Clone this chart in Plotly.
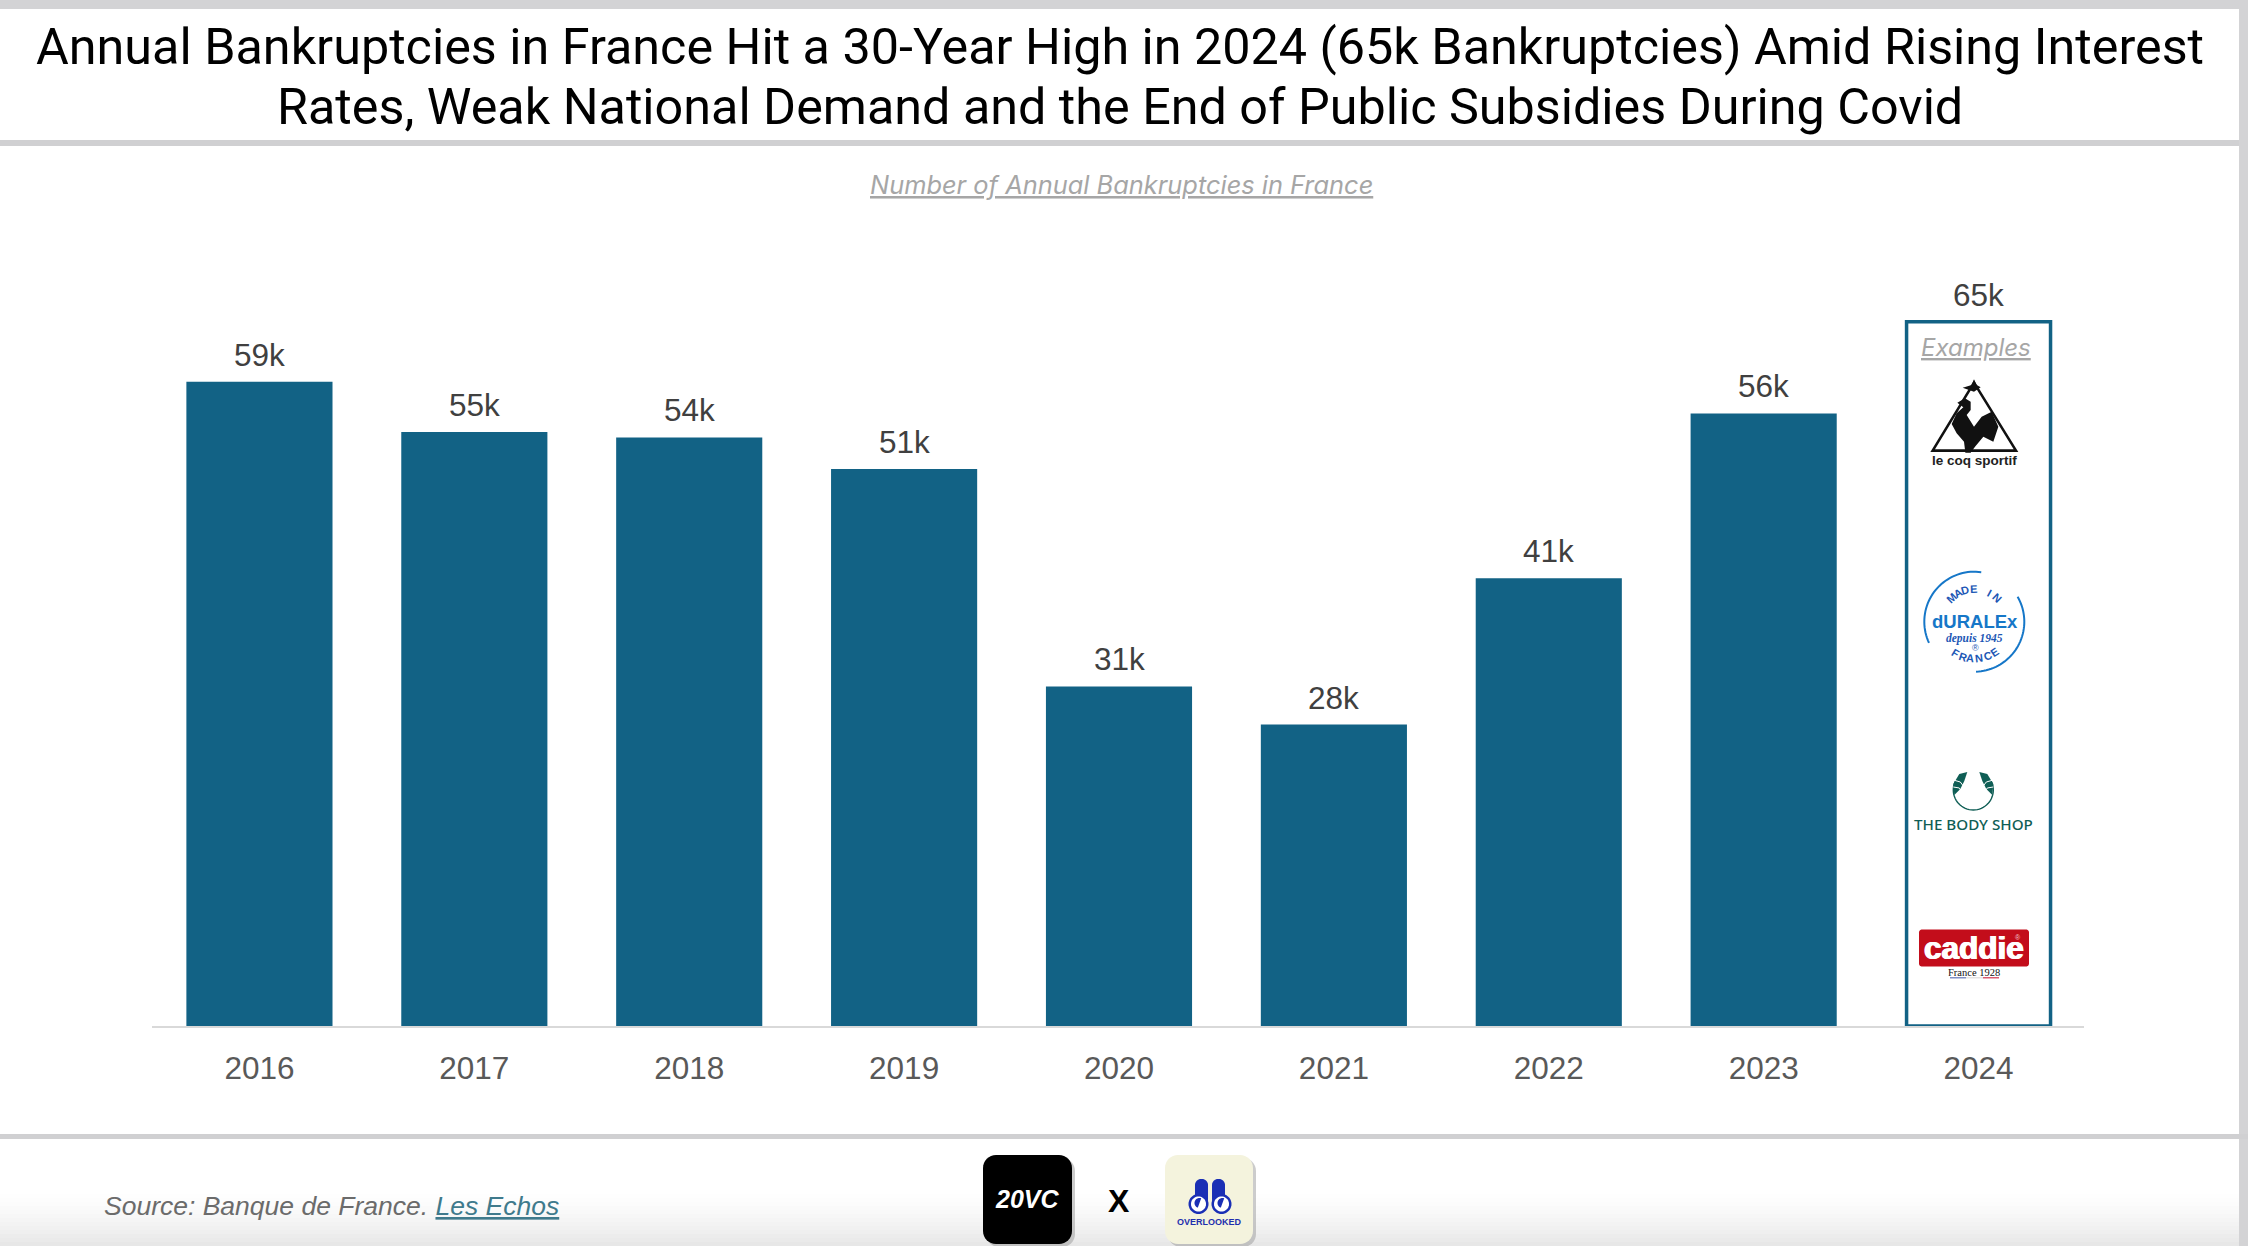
import math
import plotly.graph_objects as go

W, H = 2248, 1246

years = ["2016", "2017", "2018", "2019", "2020", "2021", "2022", "2023", "2024"]
values = [59.0, 54.4, 53.9, 51.0, 31.1, 27.6, 41.0, 56.1, 64.5]
labels = ["59k", "55k", "54k", "51k", "31k", "28k", "41k", "56k", "65k"]

TITLE_LINES = ["Annual Bankruptcies in France Hit a 30-Year High in 2024 (65k Bankruptcies) Amid Rising Interest",
               "Rates, Weak National Demand and the End of Public Subsidies During Covid"]
SUBTITLE = "Number of Annual Bankruptcies in France"
TEAL = "#126285"
GRAY_LINE = "#d0d0d2"


def px(x):
    return x / W


def py(y):
    return 1 - y / H


shapes = []
annotations = []


def rect(x0, y0, x1, y1, fill, layer="below"):
    shapes.append(dict(type="rect", xref="paper", yref="paper", x0=px(x0), x1=px(x1), y0=py(y0), y1=py(y1),
                       fillcolor=fill, line=dict(width=0), layer=layer))


def path(points, fill=None, line=None, width=0, close=True, layer="above", opacity=None):
    d = "M " + " L ".join(f"{px(a):.5f},{py(b):.5f}" for a, b in points) + (" Z" if close else "")
    s = dict(type="path", xref="paper", yref="paper", path=d, layer=layer,
             line=dict(width=width, color=line or "rgba(0,0,0,0)"))
    if fill:
        s["fillcolor"] = fill
    if opacity is not None:
        s["opacity"] = opacity
    shapes.append(s)


def arc(cx, cy, r, a0, a1, n=40):
    """Angles in degrees, clockwise from the top."""
    pts = []
    for i in range(n + 1):
        t = math.radians(a0 + (a1 - a0) * i / n)
        pts.append((cx + r * math.sin(t), cy - r * math.cos(t)))
    return pts


def rrect(x0, y0, x1, y1, r):
    return (arc(x0 + r, y0 + r, r, 270, 360, 8) + arc(x1 - r, y0 + r, r, 0, 90, 8) +
            arc(x1 - r, y1 - r, r, 90, 180, 8) + arc(x0 + r, y1 - r, r, 180, 270, 8))


def text(x, y, s, size, color, family="Liberation Sans", angle=0, weight="normal", style="normal", line=None,
         xanchor="center", shadow=None):
    f = dict(size=size, color=color, family=family, weight=weight, style=style)
    if line:
        f["lineposition"] = line
    if shadow:
        f["shadow"] = shadow
    annotations.append(dict(x=px(x), y=py(y), xref="paper", yref="paper", text=s, showarrow=False, font=f,
                            xanchor=xanchor, yanchor="middle", textangle=angle, align="center"))


# Page furniture
rect(0, 0, W, 9, "#d3d3d5")
rect(W - 9, 0, W, H, "#d3d3d5")
rect(0, 140, W - 9, 146, GRAY_LINE)
rect(0, 1134, W, 1139, GRAY_LINE)
steps = 14
for i in range(steps):
    v = 255 - round(24 * ((i + 1) / steps) ** 1.6)
    rect(0, 1190 + i * 4, W - 9, 1190 + (i + 1) * 4 + 0.5, f"rgb({v},{v},{v})")
rect(152, 1026, 2084, 1028, "#d9d9d9")

# Title and captions
text(1120, 46, TITLE_LINES[0], 50.3, "#000000", family="Roboto")
text(1120, 106, TITLE_LINES[1], 50.3, "#000000", family="Roboto")
text(1121, 184, SUBTITLE, 25.4, "#a6a6a6", family="Inter", style="italic", line="under")
text(102, 1206, 'Source: Banque de France. <span style="color:#3f7a8c"><u>Les Echos</u></span>', 26.5, "#6b6b6b",
     style="italic", xanchor="left")

# "Examples" box content
text(1975.5, 347, "Examples", 24, "#a6a6a6", family="Inter", style="italic", line="under")


def zc(x, y):
    return 1850 + x / 3, 270 + y / 3


# Le coq sportif
path([zc(372, 338), zc(248, 542), zc(498, 542)], line="#111111", width=2.6)
path([zc(*p) for p in [(338, 353), (365, 345), (372, 328), (380, 345), (392, 352), (372, 365)]], fill="#111111")
path([zc(*p) for p in [(322, 398), (345, 385), (362, 395), (362, 420), (350, 435), (372, 470), (395, 440), (425, 425),
                       (445, 470), (430, 515), (400, 500), (375, 530), (362, 548), (346, 548), (342, 515), (320, 490),
                       (305, 462), (320, 430), (340, 412)]], fill="#111111")
text(1974, 461, "le coq sportif", 13.5, "#222222", weight="bold")

# Duralex
DUR = "#1677c8"
dx, dy = 1974.3, 621.7
path(arc(dx, dy, 50, 245, 368), line=DUR, width=2, close=False)
path(arc(dx, dy, 50, 60, 178), line=DUR, width=2, close=False)
for ch, a in zip("MADE IN", [-44, -30, -16, -2, 12, 28, 44]):
    if ch != " ":
        x_, y_ = arc(dx, dy, 33, a, a, 1)[0]
        text(x_, y_, ch, 11, "#1c57b5", angle=a, weight="bold")
for ch, a in zip("FRANCE", [31, 18, 6, -7, -21, -34]):
    x_, y_ = arc(dx, dy, 37, 180 + a, 180 + a, 1)[0]
    text(x_, y_, ch, 11, "#1c57b5", angle=a, weight="bold")
text(1975, 621, "dURALEx", 18.5, DUR, weight="bold")
text(1974, 638, "depuis 1945", 11.5, "#1c57b5", family="Liberation Serif", style="italic", weight="bold")
text(1976, 648, "®", 9, "#1c57b5")

# The Body Shop
BS = "#0f5e55"
bx, by = 1973.3, 790
path(arc(bx, by, 20, 62, 298), line=BS, width=1.4, close=False)
for sgn in (-1, 1):
    path([(bx + sgn * 6, by - 18), (bx + sgn * 14, by - 16), (bx + sgn * 20, by - 6), (bx + sgn * 19, by + 5),
          (bx + sgn * 13, by - 1), (bx + sgn * 9, by - 9)], fill=BS)
    path([(bx + sgn * 20, by - 10), (bx + sgn * 13, by - 8), (bx + sgn * 10, by - 4)], line="#ffffff", width=1,
         close=False)
    path([(bx + sgn * 20, by - 3), (bx + sgn * 14, by - 2), (bx + sgn * 12, by + 1)], line="#ffffff", width=1,
         close=False)
text(1973.5, 824, "THE BODY SHOP", 15.2, BS, family="Noto Sans", weight=500)

# Caddie
path(rrect(1919, 929.5, 2029, 966.5, 3), fill="#c30d1b")
text(1974, 948, "caddie", 31.5, "#ffffff", weight="bold", shadow="0.7px 0 0 #fff, -0.7px 0 0 #fff")
text(2018, 937, "®", 7, "#f4c9cc")
text(1974, 972.5, "France 1928", 10.5, "#111111", family="Liberation Serif")
rect(1950, 977, 1966, 978.5, "#7f8fc4", layer="above")
rect(1966, 977, 1983, 978.5, "#e3e3e3", layer="above")
rect(1983, 977, 1999, 978.5, "#d95a70", layer="above")

# Footer logos
path(rrect(986, 1158, 1075, 1247, 13), fill="#999999", opacity=0.5, layer="below")
path(rrect(983, 1155, 1072, 1244, 13), fill="#000000")
text(1027, 1199, "20VC", 25, "#ffffff", style="italic", weight="bold")
text(1119, 1201, "X", 32, "#000000", weight="bold")
path(rrect(1168, 1158, 1256, 1247, 13), fill="#999999", opacity=0.5, layer="below")
path(rrect(1165, 1155, 1253, 1244, 13), fill="#f4f3dd")
BL = "#1a2fb5"
path(rrect(1195, 1179, 1208, 1205, 6), fill=BL)
path(rrect(1212, 1179, 1225, 1205, 6), fill=BL)
for cx in (1198.5, 1221.5):
    path(arc(cx, 1204, 10, 0, 360), fill=BL)
    path(arc(cx, 1204, 7.5, 0, 360), fill="#ffffff")
    path(arc(cx + 1, 1203, 5, 200, 380), fill=BL)
text(1209.5, 1221.5, "OVERLOOKED", 9, "#1f2fae", weight="bold")

# Value labels tied to the data (category axes place annotations by index)
for i, (v, l) in enumerate(zip(values, labels)):
    annotations.append(dict(x=i, y=v, xref="x", yref="y", text=l, showarrow=False, yanchor="bottom", yshift=7,
                            font=dict(size=31.5, color="#404040", family="Liberation Sans")))

fig = go.Figure(go.Bar(
    x=years, y=values, width=[0.68] * 8 + [0.67],
    marker=dict(color=[TEAL] * 8 + ["#ffffff"], line=dict(color=[TEAL] * 9, width=[0] * 8 + [3.5])),
    hoverinfo="x+y",
))

fig.update_layout(
    width=W, height=H, margin=dict(l=0, r=0, t=0, b=0), paper_bgcolor="#ffffff", plot_bgcolor="rgba(0,0,0,0)",
    showlegend=False, shapes=shapes, annotations=annotations,
    font=dict(family="Liberation Sans"),
    xaxis=dict(type="category", domain=[px(152), px(2086)], range=[-0.5, 8.5], showgrid=False, zeroline=False,
               showline=False, ticks="", ticklabelstandoff=20,
               tickfont=dict(size=31.5, color="#595959", family="Liberation Sans"), anchor="y"),
    yaxis=dict(domain=[py(1026), py(1026 - 70 * 10.92)], range=[0, 70], visible=False, fixedrange=True),
)

fig.write_html("out.html", config={"displayModeBar": False},
               post_script="document.body.style.margin='0';document.body.style.overflow='hidden';")
